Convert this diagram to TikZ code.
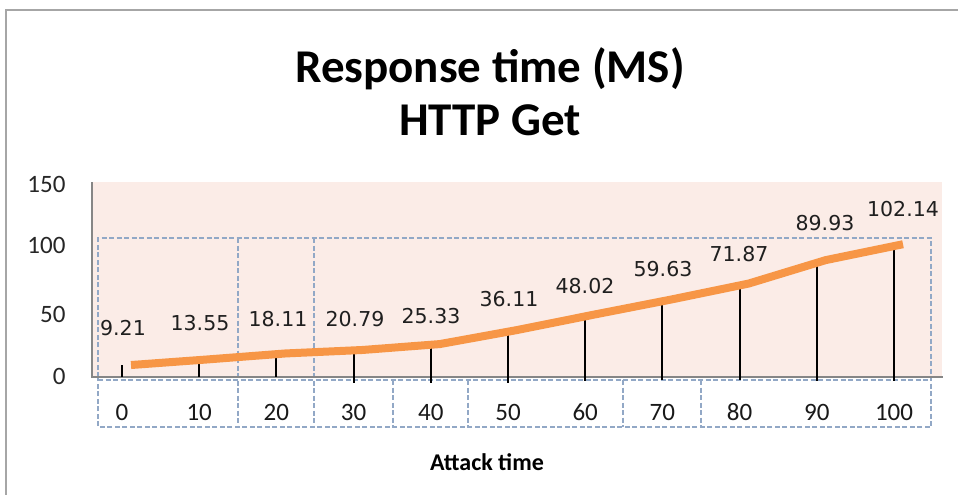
\documentclass[tikz,border=0pt]{standalone}
\usepackage{fontspec}
\setmainfont{Carlito}
\newfontfamily\dvfont{DejaVu Sans}
\definecolor{plotbg}{HTML}{FBECE7}
\definecolor{lineorange}{HTML}{F79646}
\definecolor{boxblue}{HTML}{92A8C6}
\definecolor{framegray}{HTML}{A6A6A6}
\definecolor{axisgray}{HTML}{868686}
\begin{document}
\begin{tikzpicture}[x=1pt,y=-1pt,
  titletext/.style={font=\bfseries\fontsize{47}{56}\selectfont, anchor=base},
  ylab/.style={font=\fontsize{25}{25}\selectfont, anchor=east, text=black!85},
  xlab/.style={font=\fontsize{25}{25}\selectfont, text=black!90},
  vlab/.style={font=\dvfont\fontsize{20.5}{20.5}\selectfont, text=black!88},
  dropline/.style={line width=2pt, black},
  dashbox/.style={draw=boxblue, line width=1.6pt, dash pattern=on 5pt off 2.5pt},
  series/.style={draw=lineorange, line width=8pt, line cap=butt, line join=round},
]
\useasboundingbox (0,0) rectangle (958,495);
\fill[white] (0,0) rectangle (958,495);
\draw[framegray, line width=2pt] (958,10) -- (6,10) -- (6,495);

% title
\node[titletext] (t1) at (490,82) {Response time (MS)};
\node[titletext] (t2) at (490,135) {HTTP Get};

% plot area
\fill[plotbg] (92,182) rectangle (942,377);

% dashed boxes
\draw[dashbox] (98,377) -- (98,238) -- (931,238) -- (931,427) -- (98,427) -- cycle;
\draw[dashbox] (98,380) -- (931,380);
\foreach \xx in {238,314} \draw[dashbox] (\xx,238) -- (\xx,427);
\foreach \xx in {393,468,623,701} \draw[dashbox] (\xx,380) -- (\xx,427);

% axes
\draw[axisgray, line width=1.8pt] (92,182) -- (92,377) -- (943,377);

% y labels
\node[ylab] (y150) at (69,184) {150};
\node[ylab] (y100) at (69,245) {100};
\node[ylab] (y50)  at (69,314) {50};
\node[ylab] (y0)   at (69,376) {0};

% drop lines, data points, labels
\foreach \i/\v/\lx/\ly/\bot/\xv in {
  0/9.21/123/328/377/0,
  1/13.55/200/323/377/10,
  2/18.11/278/319/377/20,
  3/20.79/355/319/383/30,
  4/25.33/431/316/383/40,
  5/36.11/509/299/383/50,
  6/48.02/585/286/381/60,
  7/59.63/663/269/380/70,
  8/71.87/739/254/380/80,
  9/89.93/825/223/381/90,
  10/102.14/903/209/381/100}{
  \coordinate (p\i) at ({122+77.2*\i},{377-1.3*\v});
  \coordinate (b\i) at ({122+77.2*\i},\bot);
  \coordinate (q\i) at ({131+77.2*\i},{377-1.3*\v});
  \draw[dropline] (p\i) -- (b\i);
  \node[vlab] (v\i) at (\lx,\ly) {\v};
  \node[xlab] (x\i) at ({122+77.2*\i},412) {\xv};
}

% series line
\draw[series] (q0) -- (q1) -- (q2) -- (q3) -- (q4) -- (q5) -- (q6) -- (q7) -- (q8) -- (q9) -- (q10);

% axis title
\node[font=\bfseries\fontsize{24}{24}\selectfont] (xtitle) at (487,462) {Attack time};
\end{tikzpicture}
\end{document}
